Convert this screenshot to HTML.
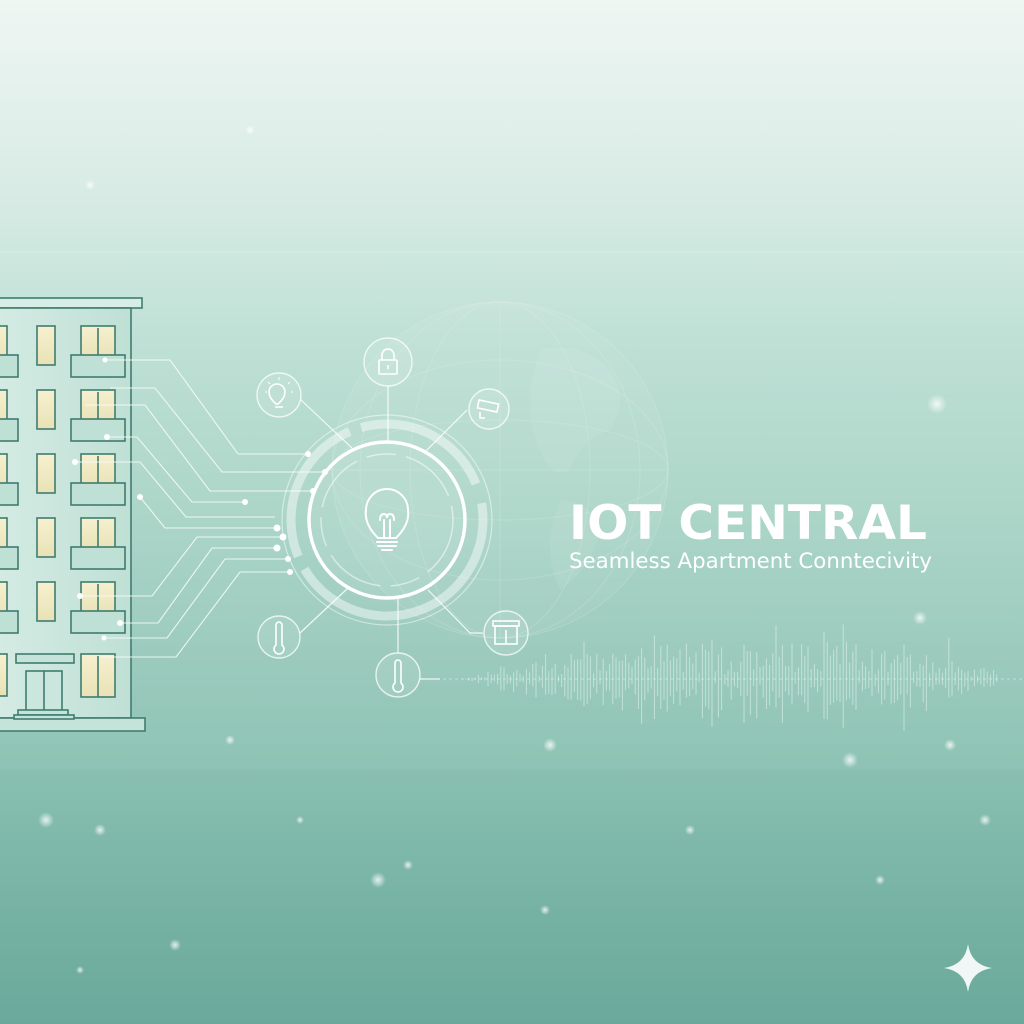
<!DOCTYPE html>
<html><head><meta charset="utf-8"><style>
html,body{margin:0;padding:0;width:1024px;height:1024px;overflow:hidden}
body{background:linear-gradient(180deg,#eff6f3 0px,#d7ebe4 200px,#bde0d4 330px,#a7d3c5 520px,#8fc4b5 720px,#7ab5a7 880px,#6aa99b 1024px)}
svg{position:absolute;left:0;top:0}
</style></head><body>
<svg width="1024" height="1024" viewBox="0 0 1024 1024" xmlns="http://www.w3.org/2000/svg">
<defs>
<radialGradient id="bk"><stop offset="0" stop-color="#fff" stop-opacity=".8"/><stop offset="1" stop-color="#fff" stop-opacity="0"/></radialGradient>
<linearGradient id="win" x1="0" y1="0" x2="0" y2="1"><stop offset="0" stop-color="#f6f0cf"/><stop offset="1" stop-color="#e9e2b6"/></linearGradient>
<linearGradient id="wall" x1="0" y1="0" x2="1" y2="0"><stop offset="0" stop-color="#d4ebe3"/><stop offset="1" stop-color="#bfe0d5"/></linearGradient>
</defs>
<rect x="0" y="252" width="1024" height="518" fill="#fff" opacity=".05"/>
<line x1="0" y1="252" x2="1024" y2="252" stroke="#fff" stroke-opacity=".2"/>
<!-- globe -->
<g stroke="#eaf6f2" stroke-opacity=".2" fill="none">
<circle cx="500" cy="470" r="168" fill="#fff" fill-opacity=".06"/>
<ellipse cx="500" cy="470" rx="90" ry="168"/><ellipse cx="500" cy="470" rx="140" ry="168"/><line x1="500" y1="302" x2="500" y2="638"/>
<ellipse cx="500" cy="470" rx="168" ry="50"/><ellipse cx="500" cy="470" rx="168" ry="110"/><line x1="332" y1="470" x2="668" y2="470"/>
</g>
<path d="M540 350 q40-10 70 20 q20 30 0 60 q-30 10 -40 40 q-20 10 -30-20 q-20-40 0-100z M560 500 q30 0 40 30 q-10 40 -40 60 q-20-40 0-90z" fill="#fff" opacity=".07"/>
<!-- building -->
<g stroke="#3f7d70" stroke-width="1.6">
<rect x="-2" y="298" width="144" height="10" fill="#d8ede6"/>
<rect x="-2" y="308" width="133" height="410" fill="url(#wall)"/>
<rect x="-2" y="718" width="147" height="13" fill="#c6e3d9"/>
<g id="row">
<rect x="-2" y="326" width="9" height="38" fill="url(#win)"/>
<rect x="37" y="326" width="18" height="39" fill="url(#win)"/>
<rect x="81" y="326" width="34" height="33" fill="url(#win)"/>
<line x1="98" y1="328" x2="98" y2="359"/>
<rect x="71" y="355" width="54" height="22" fill="#bfe0d5"/>
<rect x="-2" y="355" width="20" height="22" fill="#bfe0d5"/>
</g>
<use href="#row" y="64"/><use href="#row" y="128"/><use href="#row" y="192"/><use href="#row" y="256"/>
<rect x="-2" y="654" width="9" height="42" fill="url(#win)"/>
<rect x="81" y="654" width="34" height="43" fill="url(#win)"/><line x1="98" y1="656" x2="98" y2="697"/>
<rect x="16" y="654" width="58" height="9" fill="#c6e3d9"/>
<rect x="26" y="671" width="36" height="47" fill="#cbe6dc"/><line x1="44" y1="671" x2="44" y2="718"/>
<rect x="18" y="710" width="50" height="5" fill="#c6e3d9"/><rect x="14" y="715" width="60" height="4" fill="#c6e3d9"/>
</g>
<!-- connectors -->
<g stroke="#f4fbf8" stroke-width="1.1" fill="none" opacity=".9">
<path d="M105 360H170L238 454H308"/>
<path d="M110 388H155L222 472H325"/>
<path d="M85 405H145L210 491H313"/>
<path d="M107 437H137L192 502H245"/>
<path d="M75 462H140L186 517H275"/>
<path d="M140 497L165 528H277"/>
<path d="M80 596H152L197 537H283"/>
<path d="M120 623H158L212 548H277"/>
<path d="M104 638H167L225 559H288"/>
<path d="M100 657H176L240 572H290"/>
</g>
<g fill="#fff">
<circle cx="105" cy="360" r="2.5"/><circle cx="107" cy="437" r="3"/><circle cx="75" cy="462" r="3"/><circle cx="140" cy="497" r="3"/>
<circle cx="80" cy="596" r="3"/><circle cx="120" cy="623" r="3"/><circle cx="104" cy="638" r="2.5"/>
<circle cx="308" cy="454" r="3"/><circle cx="325" cy="472" r="3"/><circle cx="313" cy="491" r="3"/><circle cx="245" cy="502" r="3"/>
<circle cx="277" cy="528" r="3.5"/><circle cx="283" cy="537" r="3.5"/><circle cx="277" cy="548" r="3.5"/><circle cx="288" cy="559" r="3"/><circle cx="290" cy="572" r="3"/>
</g>
<!-- hub -->
<g fill="none" stroke="#fff">
<circle cx="387" cy="520" r="105" stroke-opacity=".5" stroke-width="1.2"/>
<circle cx="387" cy="520" r="96" stroke-opacity=".45" stroke-width="9" stroke-dasharray="250 14 150 12 140 20"/>
<circle cx="387" cy="520" r="78" fill="#fff" fill-opacity=".08" stroke-width="3.5"/>
<circle cx="387" cy="520" r="66" stroke-opacity=".5" stroke-width="1.5" stroke-dasharray="60 10 30 10"/>
</g>
<g fill="none" stroke="#fff" stroke-width="2" stroke-linecap="round">
<path d="M378 538 q-14-14 -12-28 a21 21 0 1 1 42 0 q2 14 -12 28z"/>
<path d="M380 520 q0-6 4-6 q3 0 3 4 q0-4 3-4 q4 0 4 6 M384 520 v18 M390 520 v18"/>
<line x1="377" y1="542" x2="397" y2="542"/><line x1="378" y1="546" x2="396" y2="546"/><line x1="382" y1="550" x2="392" y2="550"/>
</g>
<!-- spokes -->
<g stroke="#fff" stroke-opacity=".85" stroke-width="1.2" fill="none">
<line x1="388" y1="386" x2="388" y2="442"/>
<path d="M301 400 L352 448"/>
<path d="M467 410 L425 452"/>
<path d="M300 633 L348 588"/>
<line x1="398" y1="598" x2="398" y2="653"/>
<path d="M483 633 H470 L428 590"/>
<path d="M420 679 H440"/>
</g>
<g fill="#fff" fill-opacity=".1" stroke="#fff" stroke-opacity=".75" stroke-width="1.4">
<circle cx="388" cy="362" r="24"/><circle cx="279" cy="395" r="22"/><circle cx="489" cy="409" r="20"/>
<circle cx="279" cy="637" r="21"/><circle cx="398" cy="675" r="22"/><circle cx="506" cy="633" r="22"/>
</g>
<g fill="none" stroke="#fff" stroke-width="1.6">
<rect x="379" y="360" width="18" height="14" rx="1"/><path d="M382 360 v-5 a6 6 0 0 1 12 0 v5"/><line x1="388" y1="365" x2="388" y2="369"/>
<path d="M276 404 q-7-6 -7-12 a8 8 0 1 1 16 0 q0 6 -7 12z"/><line x1="275" y1="407" x2="283" y2="407"/>
<path d="M279 377v3 M268 382l2 2 M290 382l-2 2 M265 392h2 M291 392h2" stroke-width="1"/>
<rect x="478" y="402" width="20" height="8" transform="rotate(12 488 406)"/><path d="M480 412 v6 h5"/>
<path d="M276 645 v-20 a3 3 0 0 1 6 0 v20 a5 5 0 1 1 -6 0z"/>
<path d="M395 683 v-20 a3 3 0 0 1 6 0 v20 a5 5 0 1 1 -6 0z"/>
<rect x="495" y="626" width="22" height="18"/><rect x="493" y="621" width="26" height="5"/><line x1="506" y1="630" x2="506" y2="644"/>
</g>
<!-- waveform -->
<g id="wave" stroke="#e8f5f0" stroke-opacity=".55" stroke-width="1"></g>
<line x1="425" y1="679" x2="1024" y2="679" stroke="#e8f5f0" stroke-opacity=".5" stroke-dasharray="3 3"/>
<!-- text -->
<text x="569" y="539" font-family="'DejaVu Sans','Liberation Sans',sans-serif" font-size="47" font-weight="600" fill="#fff" textLength="358" lengthAdjust="spacingAndGlyphs">IOT CENTRAL</text>
<text x="569" y="568" font-family="'DejaVu Sans','Liberation Sans',sans-serif" font-size="21" fill="#fff" textLength="363" lengthAdjust="spacingAndGlyphs">Seamless Apartment Conntecivity</text>
<!-- bokeh -->
<g fill="url(#bk)">
<circle cx="937" cy="404" r="10"/><circle cx="920" cy="618" r="7"/><circle cx="850" cy="760" r="8"/><circle cx="550" cy="745" r="7"/>
<circle cx="46" cy="820" r="8"/><circle cx="100" cy="830" r="6"/><circle cx="378" cy="880" r="8"/><circle cx="408" cy="865" r="5"/>
<circle cx="175" cy="945" r="6"/><circle cx="950" cy="745" r="6"/><circle cx="985" cy="820" r="6"/><circle cx="880" cy="880" r="5"/>
<circle cx="690" cy="830" r="5"/><circle cx="230" cy="740" r="5"/><circle cx="90" cy="185" r="5"/><circle cx="250" cy="130" r="5"/>
<circle cx="545" cy="910" r="5"/><circle cx="300" cy="820" r="4"/><circle cx="80" cy="970" r="4"/>
</g>
<path d="M968 944 Q971 965 992 968 Q971 971 968 992 Q965 971 944 968 Q965 965 968 944Z" fill="#fff" opacity=".9"/>
</svg>
<script>
var g=document.getElementById('wave'),s='',seed=7;
function r(){seed=(seed*9301+49297)%233280;return seed/233280;}
for(var x=440;x<1000;x+=3.2){var c=(x-740)/280;var env=Math.max(0,1-c*c);var h=env*(8+r()*45)*(r()<.12?1.8:1);
var up=h*(0.5+r()*0.6),dn=h*(0.4+r()*0.7);
s+='<line x1="'+x.toFixed(1)+'" y1="'+(679-up).toFixed(1)+'" x2="'+x.toFixed(1)+'" y2="'+(679+dn).toFixed(1)+'"/>';}
g.innerHTML=s;
</script>
</body></html>
